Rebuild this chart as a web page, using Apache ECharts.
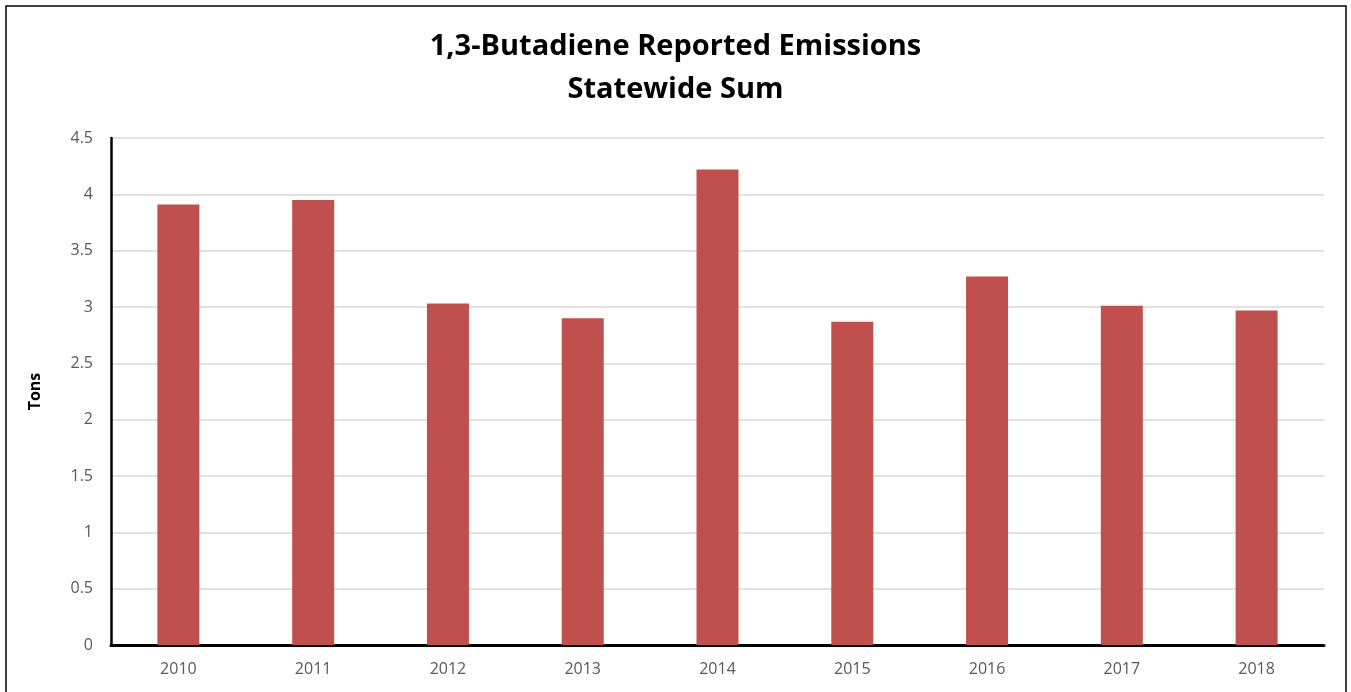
<!DOCTYPE html>
<html>
<head>
<meta charset="utf-8">
<script src="https://cdn.jsdelivr.net/npm/echarts@6/dist/echarts.min.js"></script>
<style>
  html, body { margin: 0; padding: 0; background: #fff; }
  #chart { width: 1351px; height: 692px; }
</style>
</head>
<body>
<div id="chart"></div>
<script>
// Data
const years = ['2010', '2011', '2012', '2013', '2014', '2015', '2016', '2017', '2018'];
const tons = [3.91, 3.95, 3.03, 2.90, 4.22, 2.87, 3.27, 3.01, 2.97];

const chart = echarts.init(document.getElementById('chart'));

const option = {
    animation: false,
    backgroundColor: '#fff',
    title: {
        text: '1,3-Butadiene Reported Emissions\nStatewide Sum',
        left: 'center',
        top: 20,
        textStyle: {
            fontFamily: 'Open Sans',
            fontSize: 29,
            fontWeight: 'bold',
            color: '#000',
            lineHeight: 43
        }
    },
    graphic: [{
        type: 'rect',
        shape: { x: 6, y: 6, width: 1340, height: 700 },
        style: { fill: 'none', stroke: '#000', lineWidth: 1.5 },
        silent: true
    }],
    grid: {
        left: 111,
        right: 27,
        top: 138,
        bottom: 47
    },
    xAxis: {
        type: 'category',
        data: years,
        axisLine: { lineStyle: { color: '#000', width: 3 } },
        axisTick: { show: false },
        axisLabel: {
            color: '#595959',
            fontFamily: 'Open Sans',
            fontSize: 16,
            margin: 16
        }
    },
    yAxis: {
        type: 'value',
        min: 0,
        max: 4.5,
        interval: 0.5,
        name: 'Tons',
        nameLocation: 'middle',
        nameGap: 68,
        nameTextStyle: {
            fontFamily: 'Open Sans',
            fontSize: 16,
            fontWeight: 'bold',
            color: '#000'
        },
        axisLine: { show: true, lineStyle: { color: '#000', width: 2.5 } },
        axisTick: { show: false },
        axisLabel: {
            color: '#595959',
            fontFamily: 'Open Sans',
            fontSize: 16,
            margin: 18
        },
        splitLine: { lineStyle: { color: '#d9d9d9', width: 1.5 } }
    },
    series: [{
        type: 'bar',
        data: tons,
        barWidth: 42,
        itemStyle: { color: '#c0504d' }
    }]
};

chart.setOption(option);
</script>
</body>
</html>
